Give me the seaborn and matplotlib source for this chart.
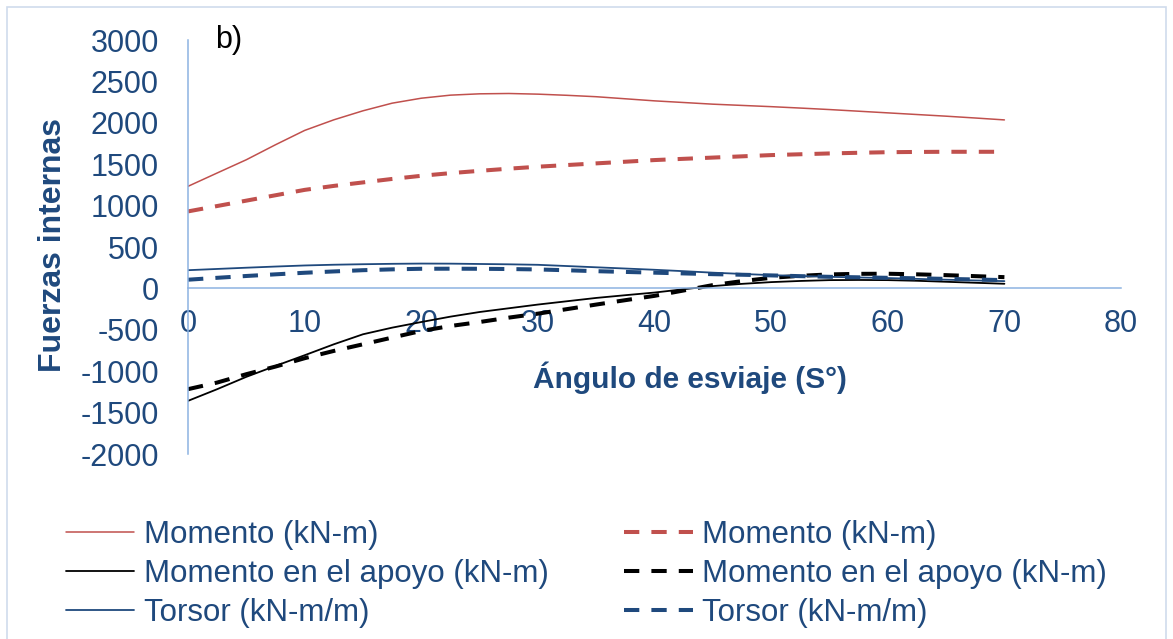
import matplotlib
matplotlib.use("Agg")
import matplotlib.pyplot as plt
from matplotlib.patches import Rectangle
import seaborn as sns

# angulo de esviaje (grados)
angulos = [0, 2.5, 5, 7.5, 10, 12.5, 15, 17.5, 20, 22.5, 25, 27.5, 30, 32.5, 35,
           37.5, 40, 42.5, 45, 47.5, 50, 52.5, 55, 57.5, 60, 62.5, 65, 67.5, 70]

# valores
momento_1 = [1233, 1394, 1554, 1735, 1908, 2036, 2145, 2237, 2297, 2334, 2350, 2354, 2346, 2332, 2315,
             2290, 2265, 2245, 2225, 2210, 2195, 2178, 2160, 2140, 2120, 2100, 2080, 2058, 2035]
momento_2 = [930, 995, 1060, 1125, 1190, 1238, 1280, 1322, 1360, 1392, 1420, 1446, 1470, 1490, 1510,
             1530, 1550, 1565, 1580, 1595, 1610, 1620, 1630, 1638, 1645, 1648, 1650, 1650, 1650]
apoyo_1 = [-1358, -1217, -1068, -936, -807, -675, -554, -474, -406, -341, -285, -240, -195, -155, -115,
           -82, -50, -10, 28, 55, 76, 90, 100, 102, 100, 92, 80, 68, 56]
apoyo_2 = [-1217, -1137, -1036, -944, -843, -755, -675, -594, -514, -454, -406, -353, -305, -250, -195,
           -142, -90, -25, 40, 88, 128, 152, 169, 176, 177, 170, 160, 148, 136]
torsor_1 = [220, 235, 250, 264, 277, 286, 292, 297, 300, 299, 295, 291, 285, 270, 255,
            240, 225, 208, 190, 175, 160, 150, 140, 132, 125, 115, 105, 96, 88]
torsor_2 = [105, 128, 150, 170, 189, 205, 220, 230, 237, 238, 237, 234, 229, 219, 208,
            199, 190, 181, 172, 165, 157, 148, 140, 134, 128, 122, 115, 108, 100]

etiquetas = ["Momento (kN-m)", "Momento (kN-m)",
             "Momento en el apoyo (kN-m)", "Momento en el apoyo (kN-m)",
             "Torsor (kN-m/m)", "Torsor (kN-m/m)"]

x_ticks = [0, 10, 20, 30, 40, 50, 60, 70, 80]
y_ticks = [-2000, -1500, -1000, -500, 0, 500, 1000, 1500, 2000, 2500, 3000]

sns.set_theme(style="white")
plt.rcParams['font.family'] = ['Liberation Sans', 'DejaVu Sans']
plt.rcParams['axes.unicode_minus'] = False

azul = "#1F497D"
rojo = "#C0504D"
dash = (0, (3.8, 3.0))

fig = plt.figure(figsize=(11.73, 6.39), dpi=100)
ax = fig.add_axes([0.1603, 0.2895, 0.7954, 0.6479])

series = [
    (momento_1, rojo, 1.1, "-"),
    (momento_2, rojo, 2.9, dash),
    (apoyo_1, "black", 1.3, "-"),
    (apoyo_2, "black", 2.9, dash),
    (torsor_1, azul, 1.3, "-"),
    (torsor_2, azul, 2.9, dash),
]
for (vals, col, lw, ls), lab in zip(series, etiquetas):
    sns.lineplot(x=angulos, y=vals, color=col, linewidth=lw, linestyle=ls, label=lab, ax=ax)

ax.set_xlim(0, 80)
ax.set_ylim(-2000, 3000)
ax.set_xticks(x_ticks)
ax.set_yticks(y_ticks)
ax.tick_params(axis='both', length=0, labelsize=22, colors=azul)
ax.tick_params(axis='y', pad=21)
ax.tick_params(axis='x', pad=15)

for s in ['top', 'right']:
    ax.spines[s].set_visible(False)
ax.spines['bottom'].set_position(('data', 0))
ax.spines['left'].set_position(('data', 0))
for s in ['bottom', 'left']:
    ax.spines[s].set_color("#8DB3E2")
    ax.spines[s].set_linewidth(1.1)
ax.set_facecolor("none")

ax.set_xlabel("Ángulo de esviaje (S°)", fontsize=21.5, fontweight='bold', color=azul)
ax.xaxis.set_label_coords(0.538, 0.159)
ax.xaxis.label.set_verticalalignment('baseline')
ax.set_ylabel("Fuerzas internas", fontsize=23, fontweight='bold', color=azul)
ax.yaxis.set_label_coords(-0.129, 0.505)

ax.text(2.3, 3000, "b)", fontsize=22, color="black", va='center', ha='left')

# leyenda: columna 1 lineas continuas, columna 2 discontinuas
h, l = ax.get_legend_handles_labels()
orden = [0, 2, 4, 1, 3, 5]
ax.legend([h[i] for i in orden], [l[i] for i in orden], ncol=2, frameon=False,
          loc='upper left', bbox_to_anchor=(0.056, 0.186), bbox_transform=fig.transFigure,
          fontsize=22.5, labelcolor=azul, handlelength=2.2, handletextpad=0.3,
          columnspacing=2.42, labelspacing=0.28, borderpad=0, borderaxespad=0)

fig.patches.append(Rectangle((0.006, -0.01), 0.988, 0.999, transform=fig.transFigure,
                             fill=False, edgecolor="#D0DCEC", linewidth=1.2))

fig.savefig("out.png", dpi=100)
